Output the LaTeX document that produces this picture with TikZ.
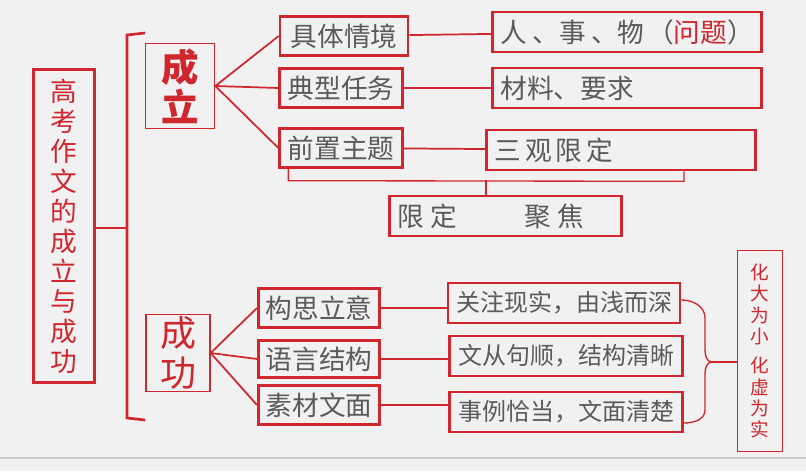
\documentclass[tikz,border=0pt]{standalone}
\usepackage{fontspec}
\setmainfont{Noto Sans CJK SC}
\usetikzlibrary{positioning, calc}
\definecolor{redline}{HTML}{D0262E}
\definecolor{greytext}{HTML}{5A5A5A}
\definecolor{paper}{HTML}{F1F1F1}
\tikzset{
        every node/.style={inner sep=0pt}, % boxes get fixed sizes below
        thickbox/.style={draw=redline, line width=2pt, text=greytext, font=\fontsize{20}{24}\selectfont},
        thinbox/.style={draw=redline, line width=1pt},
        wide/.style={thickbox, align=left, text width=#1, inner xsep=6pt, minimum height=30pt},
        link/.style={draw=redline, line width=1.3pt},
    }
\begin{document}
\begin{tikzpicture}[x=0.75pt, y=-0.75pt]
    \fill[paper] (0,0) rectangle (806,471);
    \useasboundingbox (0,0) rectangle (806,471);
    \draw[gray!40, line width=1pt] (0,458) -- (806,458);
    % left part
    \node[thickbox, text=redline, minimum width=46pt, minimum height=235pt, align=center,
          font=\fontsize{20}{22.5}\selectfont] (main) at (64,226)
          {高\\考\\作\\文\\的\\成\\立\\与\\成\\功};
    \coordinate (brk) at (127,228);
    \draw[link, line width=2pt] (145,33) -- (127,35) -- (127,418) -- (145,420);
    \draw[link, line width=2pt] (main.east |- brk) -- (brk);
    % cheng li
    \node[thinbox, text=redline, minimum width=52pt, minimum height=64pt, align=center,
          font=\fontsize{28}{30}\bfseries\selectfont] (chengli) at (180,86) {成\\立};
    \node[thickbox, minimum width=96pt, minimum height=29pt] (qj) at (344,36) {具体情境};
    \node[thickbox, minimum width=92pt, minimum height=29pt] (rw) at (341,88) {典型任务};
    \node[thickbox, minimum width=92pt, minimum height=29pt] (zt) at (341,148) {前置主题};
    \foreach \n in {qj, rw, zt}
      \draw[link] (chengli.east) -- (\n.west);
    \node[wide=190pt, anchor=west] (rsw) at (491,32)
         {\mbox{人\hspace{4pt}、事\hspace{4pt}、物\hspace{2pt}（\textcolor{redline}{问题}）}};
    \node[wide=190pt, anchor=west] (clyq) at (491,88) {材料、要求};
    \node[wide=190pt, anchor=west] (sg) at (485,150) {三\hspace{3pt}观\hspace{3pt}限\hspace{3pt}定};
    \draw[link] (qj) -- (rsw);
    \draw[link] (rw) -- (clyq);
    \draw[link] (zt) -- (sg);
    \node[wide=162pt, anchor=west] (xdjj) at (388,216) {限\hspace{5pt}定\hspace{50pt}聚\hspace{5pt}焦};
    \coordinate (mid) at (486,180);
    \draw[link, line width=1pt] ($(zt.south west)+(10,0)$) -- ($(zt.south west)+(10,12)$)
          -- ($(sg.south east)+(-73,10)$) -- ($(sg.south east)+(-73,0)$);
    \draw[link, line width=1pt] (mid) -- (xdjj.north -| mid);
    % cheng gong
    \node[thinbox, text=redline, minimum width=48pt, minimum height=58pt, align=center,
          font=\fontsize{27}{30}\selectfont] (chenggong) at (178,353) {成\\功};
    \node[thickbox, minimum width=91pt, minimum height=29pt] (gs) at (319,308) {构思立意};
    \node[thickbox, minimum width=91pt, minimum height=28pt] (yy) at (319,359) {语言结构};
    \node[thickbox, minimum width=91pt, minimum height=29pt] (sc) at (319,405) {素材文面};
    \foreach \n in {gs, yy, sc}
      \draw[link] (chenggong.east) -- (\n.west);
    \node[thickbox, minimum width=174pt, minimum height=30pt, font=\fontsize{18}{22}\selectfont] (gz) at (564,303) {关注现实，由浅而深};
    \node[thickbox, minimum width=175pt, minimum height=30pt, font=\fontsize{18}{22}\selectfont] (wc) at (566,356) {文从句顺，结构清晰};
    \node[thickbox, minimum width=175pt, minimum height=30pt, font=\fontsize{18}{22}\selectfont] (sl) at (566,412) {事例恰当，文面清楚};
    \draw[link] (gs) -- (gs -| gz.west);
    \draw[link] (yy) -- (yy -| wc.west);
    \draw[link] (sc) -- (sc -| sl.west);
    % right brace
    \node[thinbox, text=redline, minimum width=34pt, minimum height=151pt, align=center,
          font=\fontsize{14}{16}\selectfont] (hd) at (760,351) {化\\大\\为\\小\\[6pt]化\\虚\\为\\实};
    \coordinate (tip) at (712,362);
    \draw[link, line width=1pt] (gz.east |- 0,300) to[out=0, in=90] (705,318) -- (705,350)
          to[out=-90, in=180] (tip) to[out=180, in=90] (705,374) -- (705,410)
          to[out=-90, in=0] (sl.east |- 0,423);
    \draw[link, line width=1pt] (tip) -- (hd.west |- tip);
\end{tikzpicture}
\end{document}
